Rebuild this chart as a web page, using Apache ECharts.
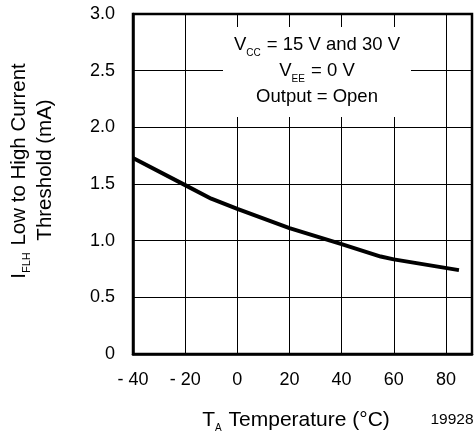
<!DOCTYPE html>
<html><head><meta charset="utf-8">
<script src="https://cdn.jsdelivr.net/npm/echarts@6/dist/echarts.min.js"></script>
<style>html,body{margin:0;padding:0;background:#fff}#c{width:475px;height:436px}</style>
</head><body><div id="c"></div>
<script>
const temps = [-40, -20, -10, 0, 20, 40, 55, 60, 85];
const threshold = [1.73, 1.49, 1.37, 1.28, 1.11, 0.97, 0.86, 0.835, 0.74];
const xTicks = [-40, -20, 0, 20, 40, 60, 80];
const yTicks = [0, 0.5, 1.0, 1.5, 2.0, 2.5, 3.0];

const FONT = '"Liberation Sans", Arial, Helvetica, sans-serif';
const chart = echarts.init(document.getElementById('c'), null, {renderer: 'canvas'});
function rich(main, sub, lh) {
  return {
    m: {fontSize: main, fontFamily: FONT, color: '#000', lineHeight: lh, verticalAlign: 'middle'},
    s: {fontSize: sub, fontFamily: FONT, color: '#000', lineHeight: sub, verticalAlign: 'bottom', padding: [0, 1, 0, 0]}
  };
}
chart.setOption({
  animation: false,
  grid: {left: 133, right: 3, top: 14, bottom: 82, show: true, borderColor: '#000', borderWidth: 2.5},
  xAxis: {
    type: 'value', min: -40, max: 90, interval: 20,
    axisLine: {show: true, onZero: false, lineStyle: {color: '#000', width: 2.5}},
    axisTick: {show: false},
    splitLine: {show: true, lineStyle: {color: '#000', width: 1}},
    axisLabel: {
      margin: 17, fontSize: 18, fontFamily: FONT, color: '#000', showMaxLabel: false,
      formatter: v => xTicks.indexOf(v) < 0 ? '' : (v < 0 ? '- ' + Math.abs(v) : String(v))
    }
  },
  yAxis: {
    type: 'value', min: 0, max: 3, interval: 0.5,
    axisLine: {show: true, onZero: false, lineStyle: {color: '#000', width: 2.5}},
    axisTick: {show: false},
    splitLine: {show: true, lineStyle: {color: '#000', width: 1}},
    axisLabel: {
      margin: 18, fontSize: 18, fontFamily: FONT, color: '#000',
      formatter: v => { const t = yTicks.find(k => Math.abs(k - v) < 1e-9); return t === 0 ? '0' : t.toFixed(1); }
    }
  },
  series: [{
    type: 'line', data: temps.map((t, i) => [t, threshold[i]]),
    showSymbol: false, symbol: 'none', lineStyle: {color: '#000', width: 4}, z: 5
  }],
  graphic: [
    {type: 'rect', shape: {x: 223, y: 27, width: 188, height: 90}, style: {fill: '#fff'}, z: 10},
    {type: 'text', x: 317, y: 71, z: 11, style: {
      text: '{m|V}{s|CC}{m| = 15 V and 30 V}\n{m|V}{s|EE}{m| = 0 V}\n{m|Output = Open}',
      rich: rich(18.5, 10, 26), align: 'center', verticalAlign: 'middle'
    }},
    {type: 'text', x: 19, y: 171, rotation: Math.PI / 2, z: 11, style: {
      text: '{m|I}{s|FLH}{m| Low to High Current}', rich: rich(20.5, 11, 26),
      align: 'center', verticalAlign: 'middle'
    }},
    {type: 'text', x: 45, y: 170, rotation: Math.PI / 2, z: 11, style: {
      text: '{m|Threshold (mA)}', rich: rich(20.5, 11, 26),
      align: 'center', verticalAlign: 'middle'
    }},
    {type: 'text', x: 296, y: 420, z: 11, style: {
      text: '{m|T}{s|A}{m| Temperature (°C)}', rich: rich(21, 10, 26),
      align: 'center', verticalAlign: 'middle'
    }},
    {type: 'text', x: 452, y: 420, z: 11, style: {
      text: '19928', font: '15.5px ' + FONT, fill: '#000', align: 'center', verticalAlign: 'middle'
    }}
  ]
});
</script></body></html>
